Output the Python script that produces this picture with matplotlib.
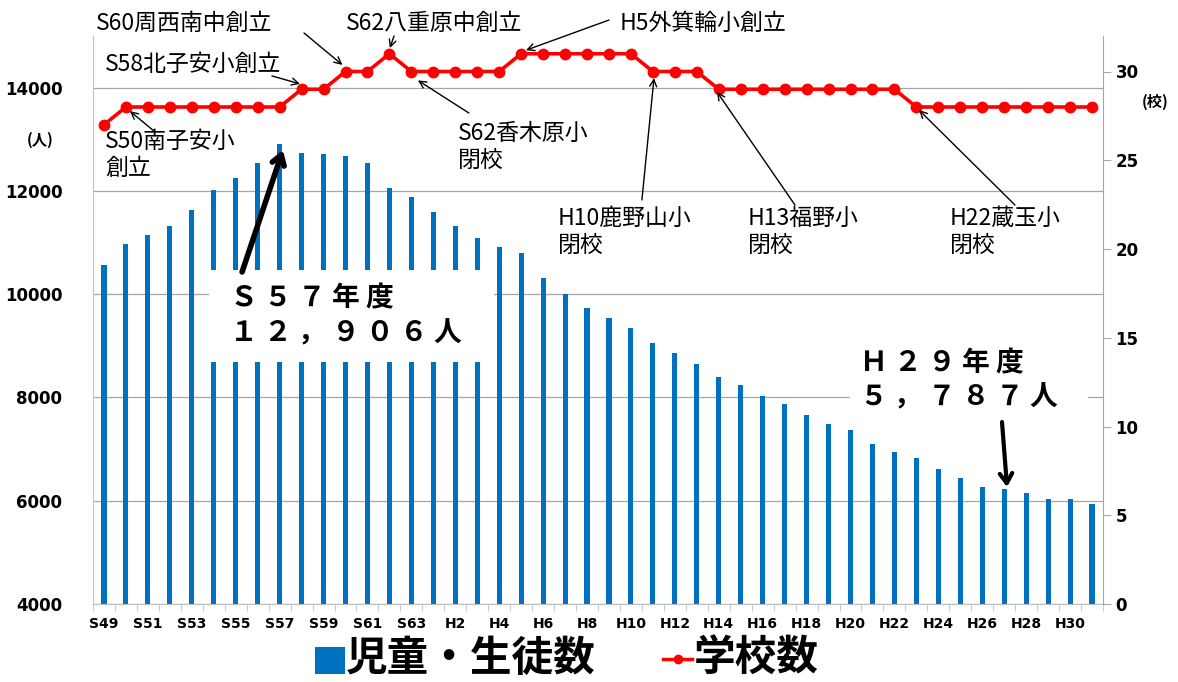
import matplotlib
matplotlib.use('Agg')
import matplotlib.pyplot as plt
from matplotlib.patches import Rectangle
from matplotlib.lines import Line2D
import numpy as np

# 年度 (S49 - H31)
years = ['S%d' % y for y in range(49, 64)] + ['H%d' % y for y in range(1, 32)]

# 児童・生徒数 (人)
students = [10557, 10965, 11152, 11314, 11638, 12013, 12259, 12543, 12906, 12725,
            12712, 12673, 12543, 12065, 11884, 11586, 11314, 11094, 10913, 10803,
            10311, 10007, 9729, 9541, 9347, 9050, 8869, 8642, 8390, 8234,
            8034, 7872, 7665, 7484, 7367, 7108, 6934, 6824, 6610, 6436,
            6268, 6222, 6141, 6032, 6025, 5936]

# 学校数 (校)
schools = [27, 28, 28, 28, 28, 28, 28, 28, 28, 29,
           29, 30, 30, 31, 30, 30, 30, 30, 30, 31,
           31, 31, 31, 31, 31, 30, 30, 30, 29, 29,
           29, 29, 29, 29, 29, 29, 29, 28, 28, 28,
           28, 28, 28, 28, 28, 28]

CJK = ['Noto Sans CJK JP', 'DejaVu Sans']
BLUE = '#0070c0'
RED = '#ff0000'
W, H = 1178, 682

fig = plt.figure(figsize=(W / 100, H / 100), dpi=100)
ax = fig.add_axes([93 / W, 1 - 604 / H, (1103 - 93) / W, (604 - 36) / H])
ax2 = ax.twinx()

x = np.arange(len(years))
ax.bar(x, students, width=0.23, color=BLUE, zorder=2)
ax.set_xlim(-0.5, len(years) - 0.5)
ax.set_ylim(4000, 15000)
ax.set_yticks(range(4000, 15000, 2000))
ax.yaxis.grid(True, color='#a6a6a6', lw=0.9)
ax.set_axisbelow(True)

ax2.plot(x, schools, color=RED, lw=2.6, marker='o', ms=7.5, zorder=3)
ax2.set_ylim(0, 32)
ax2.set_yticks(range(0, 31, 5))

# axes styling
for a in (ax, ax2):
    a.spines['top'].set_visible(False)
ax.spines['right'].set_visible(False)
ax2.spines['left'].set_visible(False)
ax2.spines['bottom'].set_visible(False)
ax.spines['left'].set_color('#bfbfbf')
ax.spines['bottom'].set_color('#bfbfbf')
ax2.spines['right'].set_color('#a6a6a6')

ax.set_xticks(x[::2])
ax.set_xticklabels(years[::2], fontsize=10, fontweight='bold', family='DejaVu Sans')
ax.set_xticks(np.arange(-0.5, len(years), 1), minor=True)
ax.tick_params(axis='x', which='major', length=0, pad=9)
ax.tick_params(axis='x', which='minor', length=5, color='#bfbfbf')
ax.tick_params(axis='y', length=0, pad=22)
plt.setp(ax.get_yticklabels(), fontsize=12, fontweight='bold', family='DejaVu Sans')
ax2.tick_params(axis='y', length=6, color='#a6a6a6', pad=3)
plt.setp(ax2.get_yticklabels(), fontsize=12, fontweight='bold', family='DejaVu Sans')

fig.text(40 / W, 1 - 140 / H, '(人)', fontsize=11, fontweight='bold', family=CJK,
         ha='center', va='center')
fig.text(1155 / W, 1 - 102 / H, '(校)', fontsize=11, fontweight='bold', family=CJK,
         ha='center', va='center')

# school events (on the right axis scale)
thin = dict(arrowstyle='->,head_length=0.5,head_width=0.25', color='black', lw=1,
            shrinkA=0, shrinkB=0)
notes = [
    ('S60周西南中創立', (-0.36, 32.73), (9.11, 32.17), (10.86, 30.37)),
    ('S62八重原中創立', (11.02, 32.73), (13.21, 32.0), (13.02, 31.32)),
    ('H5外箕輪小創立', (23.5, 32.73), (23.0, 32.9), (19.22, 31.2)),
    ('S58北子安小創立', (0.05, 30.37), (7.65, 29.75), (8.93, 29.3)),
    ('S50南子安小\n創立', (0.05, 25.3), (2.32, 26.6), (1.18, 27.77)),
    ('S62香木原小\n閉校', (16.12, 25.75), (16.62, 27.66), (14.3, 29.5)),
    ('H10鹿野山小\n閉校', (20.68, 20.96), (24.5, 22.76), (25.05, 29.63)),
    ('H13福野小\n閉校', (29.33, 20.96), (31.47, 22.48), (27.92, 28.85)),
    ('H22蔵玉小\n閉校', (38.53, 20.96), (41.49, 22.48), (37.12, 27.83)),
]
for label, pos, tail, head in notes:
    ax2.text(pos[0], pos[1], label, fontsize=16.5, family=CJK, ha='left', va='center',
             linespacing=1.2, zorder=5, clip_on=False)
    ax2.annotate('', xy=head, xytext=tail, arrowprops=thin, zorder=5,
                 annotation_clip=False)

# peak / latest callouts (on the left axis scale)
thick = dict(arrowstyle='->,head_length=0.7,head_width=0.45', color='black', lw=4,
             shrinkA=0, shrinkB=0)
big = dict(transform=ax.transData, fontsize=20, fontweight='bold', family=CJK,
           va='center', ha='left', zorder=5)
ax2.add_patch(Rectangle((4.8, 8687), 12.95, 10468 - 8687, transform=ax.transData,
                        facecolor='white', edgecolor='none', zorder=2.5))
ax2.text(5.75, 9926, 'Ｓ ５ ７ 年 度', **big)
ax2.text(5.75, 9248, '１ ２ ， ９ ０ ６ 人', **big)
ax2.annotate('', xy=(8.15, 12792), xytext=(6.29, 10430), xycoords=ax.transData,
             textcoords=ax.transData, arrowprops=thick, zorder=5)

ax2.add_patch(Rectangle((33.98, 7660), 10.83, 9113 - 7660, transform=ax.transData,
                        facecolor='white', edgecolor='none', zorder=2.5))
ax2.text(34.45, 8667, 'Ｈ ２ ９ 年 度', **big)
ax2.text(34.45, 8009, '５ ， ７ ８ ７ 人', **big)
ax2.annotate('', xy=(41.13, 6266), xytext=(40.9, 7525), xycoords=ax.transData,
             textcoords=ax.transData,
             arrowprops=dict(thick, lw=3), zorder=5)

# legend
LY = 1 - 659 / H
fig.patches.append(Rectangle((315 / W, 1 - 674 / H), 30 / W, 27 / H,
                             transform=fig.transFigure, facecolor=BLUE,
                             edgecolor='none'))
fig.text(346 / W, LY, '児童・生徒数', fontsize=30, fontweight='bold',
         family=CJK, va='center', ha='left')
fig.lines.append(Line2D([663 / W, 692 / W], [LY] * 2, color=RED, lw=2.5,
                        transform=fig.transFigure))
fig.lines.append(Line2D([677.5 / W], [LY], color=RED, marker='o', ms=6,
                        transform=fig.transFigure))
fig.text(694 / W, LY, '学校数', fontsize=30, fontweight='bold',
         family=CJK, va='center', ha='left')

fig.savefig('out.png', dpi=100, facecolor='white')
